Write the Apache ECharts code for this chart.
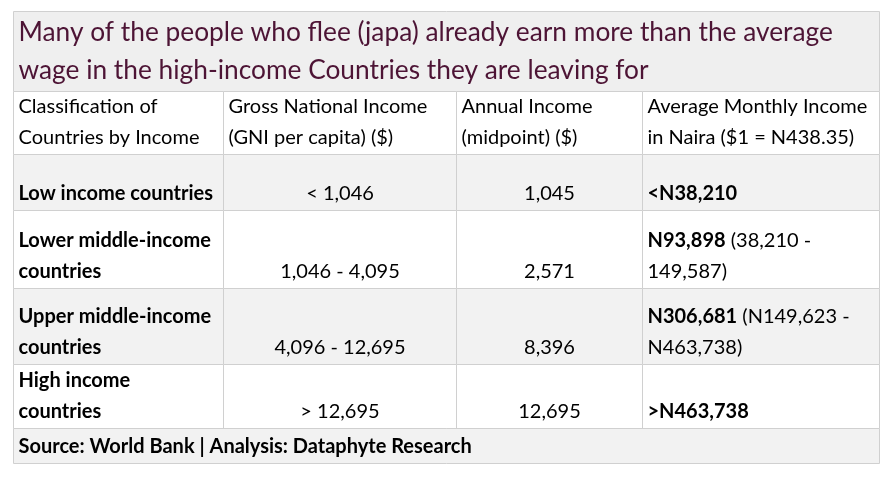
<!DOCTYPE html>
<html>
<head>
<meta charset="utf-8">
<script src="https://cdn.jsdelivr.net/npm/echarts@6/dist/echarts.min.js"></script>
<style>
  html, body { margin: 0; padding: 0; background: #ffffff; }
  #chart { width: 893px; height: 477px; }
</style>
</head>
<body>
<div id="chart"></div>
<script>
// ---------- DATA ----------
const titleLines = [
  "Many of the people who flee (japa) already earn more than the average",
  "wage in the high-income Countries they are leaving for"
];
const headers = [
  "Classification of\nCountries by Income",
  "Gross National Income\n(GNI per capita) ($)",
  "Annual Income\n(midpoint) ($)",
  "Average Monthly Income\nin Naira ($1 = N438.35)"
];
const categories = [
  "Low income countries",
  "Lower middle-income\ncountries",
  "Upper middle-income\ncountries",
  "High income\ncountries"
];
const gniRanges = ["< 1,046", "1,046 - 4,095", "4,096 - 12,695", "> 12,695"];
const annualIncome = [1045, 2571, 8396, 12695];
const nairaMonthly = ["<N38,210", "N93,898", "N306,681", ">N463,738"];
const nairaRanges = ["", "(38,210 -\n149,587)", "(N149,623 -\nN463,738)", ""];
const sourceText = "Source: World Bank | Analysis: Dataphyte Research";

// ---------- LAYOUT / STYLE ----------
const LAYOUT = {
  colEdges: [13, 223, 456, 642, 879],
  rowEdges: [11, 91, 154, 210, 288, 364, 428, 463],
  font: "Lato, 'Open Sans', sans-serif",
  fontSize: 20,
  lineHeight: 31,
  titleFontSize: 26.3,
  titleLineHeight: 38,
  padX: 5,
  border: "#d0d0d0",
  titleBg: "#efefef",
  grayBg: "#f2f2f2",
  whiteBg: "#ffffff",
  titleColor: "#4d1435",
  textColor: "#000000"
};

// ---------- BUILD CELLS ----------
const C = LAYOUT.colEdges, R = LAYOUT.rowEdges;
const cells = [];
// title row spanning all columns
cells.push({ c0: 0, c1: 4, r: 0, text: titleLines.join("\n"), align: "left",
  fill: LAYOUT.titleBg, color: LAYOUT.titleColor, size: LAYOUT.titleFontSize,
  lh: LAYOUT.titleLineHeight, vpad: 2 });
// header row
headers.forEach((h, i) => cells.push({ c0: i, c1: i + 1, r: 1, text: h, align: "left",
  fill: LAYOUT.whiteBg }));
// data rows
const fmt = v => v.toLocaleString("en-US");
categories.forEach((cat, i) => {
  const r = i + 2;
  const fill = i % 2 === 0 ? LAYOUT.grayBg : LAYOUT.whiteBg;
  cells.push({ c0: 0, c1: 1, r, text: "{b|" + cat.split("\n").join("}\n{b|") + "}", align: "left", fill });
  cells.push({ c0: 1, c1: 2, r, text: gniRanges[i], align: "center", fill });
  cells.push({ c0: 2, c1: 3, r, text: fmt(annualIncome[i]), align: "center", fill });
  const rng = nairaRanges[i];
  let t = "{b|" + nairaMonthly[i] + "}";
  if (rng) t += " " + rng;
  cells.push({ c0: 3, c1: 4, r, text: t, align: "left", fill });
});
// source row
cells.push({ c0: 0, c1: 4, r: 6, text: "{b|" + sourceText + "}", align: "left", fill: LAYOUT.grayBg });

const data = cells.map(c => [C[c.c0], R[c.r], C[c.c1], R[c.r + 1]]);

function renderItem(params, api) {
  const cell = cells[params.dataIndex];
  const p0 = api.coord([api.value(0), api.value(1)]);
  const p1 = api.coord([api.value(2), api.value(3)]);
  const x0 = Math.round(p0[0]) + 0.5, y0 = Math.round(p0[1]) + 0.5;
  const x1 = Math.round(p1[0]) + 0.5, y1 = Math.round(p1[1]) + 0.5;
  const size = cell.size || LAYOUT.fontSize;
  const lh = cell.lh || LAYOUT.lineHeight;
  const tx = cell.align === "center" ? (x0 + x1) / 2 : x0 + LAYOUT.padX;
  const ty = y1 - (cell.vpad || 1);
  return {
    type: "group",
    children: [
      { type: "rect", shape: { x: x0, y: y0, width: x1 - x0, height: y1 - y0 },
        style: { fill: cell.fill, stroke: LAYOUT.border, lineWidth: 1 } },
      { type: "text",
        style: {
          x: tx, y: ty, text: cell.text, align: cell.align, verticalAlign: "bottom",
          fontFamily: LAYOUT.font, fontSize: size, lineHeight: lh,
          fill: cell.color || LAYOUT.textColor,
          rich: { b: { fontWeight: "bold", fontFamily: LAYOUT.font, fontSize: size,
                       lineHeight: lh, fill: cell.color || LAYOUT.textColor } }
        } }
    ]
  };
}

const chart = echarts.init(document.getElementById("chart"), null, { renderer: "canvas" });
chart.setOption({
  backgroundColor: "#ffffff",
  animation: false,
  grid: { left: 0, right: 0, top: 0, bottom: 0 },
  xAxis: { type: "value", min: 0, max: 893, show: false },
  yAxis: { type: "value", min: 0, max: 477, inverse: true, show: false },
  series: [{
    type: "custom",
    renderItem,
    clip: false,
    encode: { x: [0, 2], y: [1, 3] },
    data
  }]
});
</script>
</body>
</html>
